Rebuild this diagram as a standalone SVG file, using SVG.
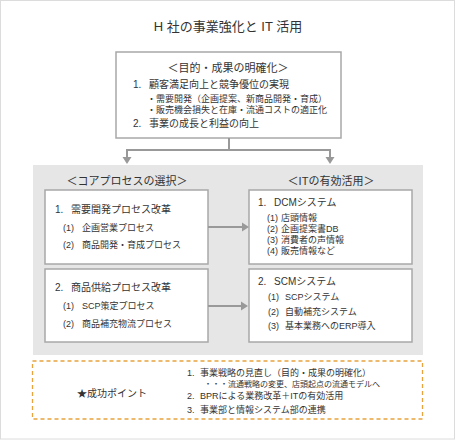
<svg xmlns="http://www.w3.org/2000/svg" width="456" height="440" viewBox="0 0 456 440">
<defs>
<style>
text{font-family:"Liberation Sans","Noto Sans CJK JP",sans-serif;fill:#333}
.t{font-size:13px}
.h{font-size:11px}
.m{font-size:10px}
.s{font-size:9px}
.xs{font-size:8px}
.box{fill:#fff;stroke:#a8a8a8;stroke-width:1.5}
.con{fill:none;stroke:#999;stroke-width:2}
.ah{fill:#999}
</style>
</defs>
<rect x="0.5" y="0.5" width="454" height="438.5" fill="#fff" stroke="#dcdcdc" stroke-width="1"/>
<text class="t" x="228" y="31" text-anchor="middle">H 社の事業強化と IT 活用</text>
<g id="top">
<rect class="box" x="116" y="52" width="225" height="86" stroke="#999"/>
<text class="h" x="228" y="72" text-anchor="middle">＜目的・成果の明確化＞</text>
<text class="m" x="133" y="88">1.<tspan x="149">顧客満足向上と競争優位の実現</tspan></text>
<text class="s" x="147" y="102">・需要開発（企画提案、新商品開発・育成）</text>
<text class="s" x="147" y="113">・販売機会損失と在庫・流通コストの適正化</text>
<text class="m" x="133" y="127">2.<tspan x="149">事業の成長と利益の向上</tspan></text>
</g>
<g id="panel">
<rect x="33" y="165" width="390" height="190" fill="#e6e6e6"/>
<text class="h" x="127" y="185" text-anchor="middle">＜コアプロセスの選択＞</text>
<text class="h" x="331" y="185" text-anchor="middle">＜ITの有効活用＞</text>
</g>
<g id="core1">
<rect class="box" x="45" y="190" width="163" height="74"/>
<text class="m" x="55" y="213">1.<tspan x="71">需要開発プロセス改革</tspan></text>
<text class="s" x="63" y="231">(1)<tspan x="82">企画営業プロセス</tspan></text>
<text class="s" x="63" y="248">(2)<tspan x="82">商品開発・育成プロセス</tspan></text>
</g>
<g id="core2">
<rect class="box" x="45" y="269" width="163" height="73"/>
<text class="m" x="55" y="291">2.<tspan x="71">商品供給プロセス改革</tspan></text>
<text class="s" x="63" y="309">(1)<tspan x="82">SCP策定プロセス</tspan></text>
<text class="s" x="63" y="327">(2)<tspan x="82">商品補充物流プロセス</tspan></text>
</g>
<g id="it1">
<rect class="box" x="249" y="190" width="163" height="74"/>
<text class="m" x="258" y="206">1.<tspan x="274">DCMシステム</tspan></text>
<text class="s" x="267" y="221">(1)<tspan x="281">店頭情報</tspan></text>
<text class="s" x="267" y="232">(2)<tspan x="281">企画提案書DB</tspan></text>
<text class="s" x="267" y="243">(3)<tspan x="281">消費者の声情報</tspan></text>
<text class="s" x="267" y="254">(4)<tspan x="281">販売情報など</tspan></text>
</g>
<g id="it2">
<rect class="box" x="249" y="269" width="163" height="73"/>
<text class="m" x="258" y="285">2.<tspan x="274">SCMシステム</tspan></text>
<text class="s" x="268" y="300">(1)<tspan x="285">SCPシステム</tspan></text>
<text class="s" x="268" y="315">(2)<tspan x="285">自動補充システム</tspan></text>
<text class="s" x="268" y="329">(3)<tspan x="285">基本業務へのERP導入</tspan></text>
</g>
<g id="connectors">
<path class="con" d="M229 138V150M127 157V150H330V157"/>
<path class="ah" d="M122.5 157H131.5L127 164Z"/>
<path class="ah" d="M325.5 157H334.5L330 164Z"/>
<path class="con" d="M208 227H243"/>
<path class="ah" d="M242 222.5V231.5L249 227Z"/>
<path class="con" d="M208 306H242"/>
<path class="ah" d="M241 301.5V310.5L248 306Z"/>
</g>
<g id="points">
<rect x="32.5" y="361" width="390" height="58" fill="#fff" stroke="#e8a33c" stroke-width="1.3" stroke-dasharray="4,3"/>
<text class="m" x="112" y="397" text-anchor="middle">★成功ポイント</text>
<text class="s" x="187" y="376">1.<tspan x="200">事業戦略の見直し（目的・成果の明確化）</tspan></text>
<text class="xs" x="204" y="387">・・・流通戦略の変更、店頭起点の流通モデルへ</text>
<text class="s" x="187" y="399">2.<tspan x="200">BPRによる業務改革＋ITの有効活用</tspan></text>
<text class="s" x="187" y="413">3.<tspan x="200">事業部と情報システム部の連携</tspan></text>
</g>
</svg>
